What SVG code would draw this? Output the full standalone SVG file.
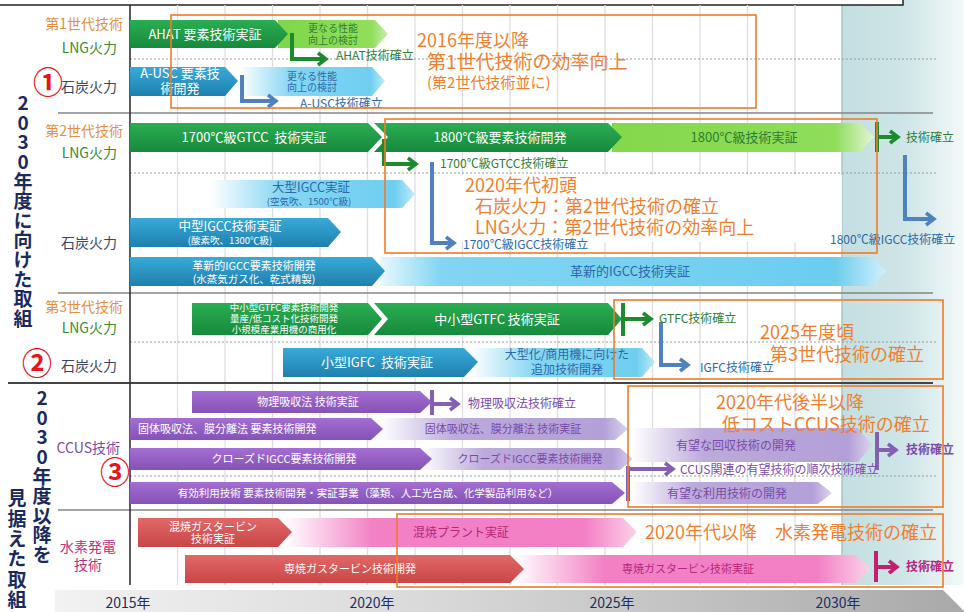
<svg xmlns="http://www.w3.org/2000/svg" width="964" height="612" viewBox="0 0 964 612">
<defs>
<style>
text{font-family:"Noto Sans CJK JP","Noto Sans","DejaVu Sans",sans-serif}
.grid{stroke:#dedede;stroke-width:1.3}
.sep{stroke:#858585;stroke-width:1.3}
.dot{stroke:#9a9a9a;stroke-width:1;stroke-dasharray:2 2}
.ob{fill:none;stroke:#f07a2a;stroke-width:1.6}
.ot{fill:#ef7f2e}
.c{text-anchor:middle}
.wt{fill:#fff}
.gt{fill:#2e7d32}
.bt{fill:#2b68a8}
.pt{fill:#7a4aa8}
.mt{fill:#b5267a}
.lbl{font-size:14px;text-anchor:end}
.gen{fill:#e39140}
.lng{fill:#3b8a2f}
.coal{fill:#3a4663}
.vt{font-size:19px;font-weight:bold;fill:#1b2a5c;writing-mode:vertical-rl;text-orientation:upright;letter-spacing:0.6px}
.num{font-size:30px;fill:#e8131b;font-weight:bold;text-anchor:middle;dominant-baseline:central}
.yr{font-size:14px;fill:#20305e;text-anchor:middle}
.cg{fill:none;stroke:#1d8a2e;stroke-width:4}
.cb{fill:none;stroke:#4f80c0;stroke-width:4}
.cp{fill:none;stroke:#8460b4;stroke-width:4}
.cm{fill:none;stroke:#c0206e;stroke-width:4}
</style>
<linearGradient id="gDG" x1="0" y1="0" x2="0" y2="1"><stop offset="0" stop-color="#2bad52"/><stop offset="1" stop-color="#17893d"/></linearGradient>
<linearGradient id="gLG" x1="0" y1="0" x2="1" y2="0"><stop offset="0" stop-color="#7fd64a"/><stop offset="0.85" stop-color="#92de5c"/><stop offset="1" stop-color="#c8efb0"/></linearGradient>
<linearGradient id="gLGf" x1="0" y1="0" x2="1" y2="0"><stop offset="0" stop-color="#84d84b"/><stop offset="0.85" stop-color="#8fdd5a"/><stop offset="1" stop-color="#e2f6d4"/></linearGradient>
<linearGradient id="gBL" x1="0" y1="0" x2="0" y2="1"><stop offset="0" stop-color="#38aad8"/><stop offset="1" stop-color="#1f80ae"/></linearGradient>
<linearGradient id="gLB" x1="0" y1="0" x2="1" y2="0"><stop offset="0" stop-color="#ffffff"/><stop offset="0.35" stop-color="#86d6f3"/><stop offset="0.9" stop-color="#6fcef0"/><stop offset="1" stop-color="#bfeaf8"/></linearGradient>
<linearGradient id="gLB2" x1="0" y1="0" x2="1" y2="0"><stop offset="0" stop-color="#eaf8fd"/><stop offset="0.12" stop-color="#82d5f3"/><stop offset="0.9" stop-color="#6ccdef"/><stop offset="1" stop-color="#d2f0fa"/></linearGradient>
<linearGradient id="gPU" x1="0" y1="0" x2="0" y2="1"><stop offset="0" stop-color="#a46ed2"/><stop offset="1" stop-color="#8552b6"/></linearGradient>
<linearGradient id="gLP" x1="0" y1="0" x2="1" y2="0"><stop offset="0" stop-color="#ffffff"/><stop offset="0.3" stop-color="#bcaadb"/><stop offset="0.9" stop-color="#b2a0d7"/><stop offset="1" stop-color="#dcd2ef"/></linearGradient>
<linearGradient id="gRD" x1="0" y1="0" x2="0" y2="1"><stop offset="0" stop-color="#e26868"/><stop offset="1" stop-color="#c84646"/></linearGradient>
<linearGradient id="gPK" x1="0" y1="0" x2="1" y2="0"><stop offset="0" stop-color="#ffffff"/><stop offset="0.25" stop-color="#f281c4"/><stop offset="0.85" stop-color="#f37fc4"/><stop offset="1" stop-color="#fbd2e9"/></linearGradient>
<linearGradient id="gTeal" x1="0" y1="0" x2="1" y2="0"><stop offset="0" stop-color="#c3dfe1"/><stop offset="0.55" stop-color="#d0e6e8"/><stop offset="1" stop-color="#f4f9f9"/></linearGradient>
<linearGradient id="gBand" x1="0" y1="0" x2="1" y2="0"><stop offset="0" stop-color="#f2f2f2"/><stop offset="0.4" stop-color="#dadada"/><stop offset="1" stop-color="#a9a9a9"/></linearGradient>
<marker id="mG" viewBox="0 0 14 16" refX="8" refY="8" markerWidth="14" markerHeight="16" orient="auto" markerUnits="userSpaceOnUse"><path d="M2 2L10 8L2 14" fill="none" stroke="#1d8a2e" stroke-width="3.5"/></marker>
<marker id="mB" viewBox="0 0 14 16" refX="8" refY="8" markerWidth="14" markerHeight="16" orient="auto" markerUnits="userSpaceOnUse"><path d="M2 2L10 8L2 14" fill="none" stroke="#4f80c0" stroke-width="3.5"/></marker>
<marker id="mP" viewBox="0 0 14 16" refX="8" refY="8" markerWidth="14" markerHeight="16" orient="auto" markerUnits="userSpaceOnUse"><path d="M2 2L10 8L2 14" fill="none" stroke="#8460b4" stroke-width="3.5"/></marker>
<marker id="mM" viewBox="0 0 14 16" refX="8" refY="8" markerWidth="14" markerHeight="16" orient="auto" markerUnits="userSpaceOnUse"><path d="M2 2L10 8L2 14" fill="none" stroke="#c0206e" stroke-width="3.5"/></marker>
</defs>

<rect width="964" height="612" fill="#fff"/>

<g id="background">
<rect x="842" y="0" width="122" height="585" fill="url(#gTeal)"/>
<line x1="842" y1="5" x2="842" y2="585" stroke="#a9c4c6" stroke-width="1.5"/>
<rect x="-2" y="-20" width="905" height="25" fill="#fff" stroke="#222" stroke-width="1.5"/>
<polygon points="55,590 943,590 965,612 55,612" fill="url(#gBand)"/>
<g class="grid">
<line x1="177.5" y1="5" x2="177.5" y2="585"/><line x1="225" y1="5" x2="225" y2="585"/><line x1="272.5" y1="5" x2="272.5" y2="585"/><line x1="320" y1="5" x2="320" y2="585"/><line x1="367.5" y1="5" x2="367.5" y2="585"/><line x1="415" y1="5" x2="415" y2="585"/><line x1="462.5" y1="5" x2="462.5" y2="585"/><line x1="510" y1="5" x2="510" y2="585"/><line x1="557.5" y1="5" x2="557.5" y2="585"/><line x1="605" y1="5" x2="605" y2="585"/><line x1="652.5" y1="5" x2="652.5" y2="585"/><line x1="700" y1="5" x2="700" y2="585"/><line x1="747.5" y1="5" x2="747.5" y2="585"/><line x1="795" y1="5" x2="795" y2="585"/>
</g>
<rect x="440" y="175" width="402" height="67" fill="#fff"/>
<g class="dot">
<line x1="130" y1="59" x2="938" y2="59"/><line x1="130" y1="173" x2="938" y2="173"/><line x1="130" y1="342" x2="938" y2="342"/><line x1="130" y1="476" x2="938" y2="476"/>
</g>
<line class="sep" x1="58" y1="113" x2="933" y2="113"/>
<line class="sep" x1="58" y1="293" x2="933" y2="293"/>
<line x1="8" y1="383" x2="933" y2="383" stroke="#444" stroke-width="2.2"/>
<line class="sep" x1="58" y1="510" x2="933" y2="510"/>
<line x1="130" y1="5" x2="130" y2="585" stroke="#333" stroke-width="1.6"/>
</g>

<g id="year-axis">
<text class="yr" x="128" y="608">2015年</text>
<text class="yr" x="372" y="608">2020年</text>
<text class="yr" x="612" y="608">2025年</text>
<text class="yr" x="838" y="608">2030年</text>
</g>

<g id="title-2030">
<text class="vt" x="23" y="93.5">2030年度に向けた取組</text>
</g>
<g id="title-beyond-2030">
<text class="vt" x="42" y="388.5">2030年度以降を</text>
<text class="vt" x="17" y="488.5" style="letter-spacing:1.4px">見据えた取組</text>
</g>

<g id="row-labels">
<text class="lbl gen" x="123" y="29">第1世代技術</text>
<text class="lbl lng" x="117" y="53">LNG火力</text>
<text class="lbl coal" x="117" y="92">石炭火力</text>
<text class="lbl gen" x="123" y="136">第2世代技術</text>
<text class="lbl lng" x="117" y="158">LNG火力</text>
<text class="lbl coal" x="117" y="248">石炭火力</text>
<text class="lbl gen" x="123" y="312">第3世代技術</text>
<text class="lbl lng" x="117" y="333">LNG火力</text>
<text class="lbl coal" x="117" y="371">石炭火力</text>
<text class="lbl" x="120" y="453" fill="#7a4aa8">CCUS技術</text>
<text class="c" font-size="14" fill="#b8307a"><tspan x="88" y="552">水素発電</tspan><tspan x="88" y="570">技術</tspan></text>
<text class="num" x="48" y="80">①</text>
<text class="num" x="37" y="361">②</text>
<text class="num" x="115" y="470">③</text>
</g>

<g id="n-ahat-next"><path d="M278 20H375L388 34L375 48H278Z" fill="url(#gLG)"/><text class="gt c" font-size="10"><tspan x="333" y="32">更なる性能</tspan><tspan x="333" y="44">向上の検討</tspan></text></g>
<g id="n-ahat"><path d="M130 20H275L288 34L275 48H130Z" fill="url(#gDG)"/><text class="wt c" x="205" y="39" font-size="13">AHAT 要素技術実証</text></g>
<g id="n-ausc-next"><path d="M240 67H372L385 81L372 96H240Z" fill="url(#gLB)"/><text class="bt c" font-size="10"><tspan x="312" y="80">更なる性能</tspan><tspan x="312" y="91">向上の検討</tspan></text></g>
<g id="n-ausc"><path d="M130 67H225L238 81L225 96H130Z" fill="url(#gBL)"/><text class="wt c" font-size="13"><tspan x="180" y="78">A-USC 要素技</tspan><tspan x="180" y="93">術開発</tspan></text></g>

<g id="n-1800demo"><path d="M612 123H860L874 137L860 152H612Z" fill="url(#gLGf)"/><text class="gt c" x="744" y="142" font-size="13">1800℃級技術実証</text></g>
<g id="n-1800dev"><path d="M374 123H608L622 137L608 152H374L388 137Z" fill="url(#gDG)"/><text class="wt c" x="500" y="142" font-size="13">1800℃級要素技術開発</text></g>
<g id="n-gtcc1700"><path d="M130 123H368L382 137L368 152H130Z" fill="url(#gDG)"/><text class="wt c" x="254" y="142" font-size="13" xml:space="preserve">1700℃級GTCC  技術実証</text></g>

<g id="n-igcc-large"><path d="M210 180H402L415 194L402 208H210Z" fill="url(#gLB)"/><text class="bt c"><tspan x="311" y="192" font-size="12.5">大型IGCC実証</tspan><tspan x="309" y="205" font-size="9.5">(空気吹、1500℃級)</tspan></text></g>
<g id="n-igcc-mid"><path d="M130 218H328L341 232L328 247H130Z" fill="url(#gBL)"/><text class="wt c"><tspan x="230" y="231" font-size="12.5">中型IGCC技術実証</tspan><tspan x="230" y="244" font-size="9.5">(酸素吹、1300℃級)</tspan></text></g>
<g id="n-igcc-innov-demo"><path d="M380 257H872L886 271L872 286H380Z" fill="url(#gLB2)"/><text class="bt c" x="630" y="276" font-size="13">革新的IGCC技術実証</text></g>
<g id="n-igcc-innov"><path d="M130 257H372L385 271L372 286H130Z" fill="url(#gBL)"/><text class="wt c"><tspan x="254" y="270" font-size="11">革新的IGCC要素技術開発</tspan><tspan x="254" y="283" font-size="10.5">(水蒸気ガス化、乾式精製)</tspan></text></g>

<g id="n-gtfc-demo"><path d="M374 303H608L622 319L608 335H374L388 319Z" fill="url(#gDG)"/><text class="wt c" x="497" y="324" font-size="13">中小型GTFC 技術実証</text></g>
<g id="n-gtfc-dev"><path d="M192 303H368L382 319L368 335H192Z" fill="url(#gDG)"/><text class="wt c" font-size="9.5"><tspan x="284" y="311">中小型GTFC要素技術開発</tspan><tspan x="284" y="322">量産/低コスト化技術開発</tspan><tspan x="284" y="333">小規模産業用機の商用化</tspan></text></g>
<g id="n-igfc-next"><path d="M470 348H642L655 362L642 377H470Z" fill="url(#gLB)"/><text class="bt c" font-size="12"><tspan x="567" y="359">大型化/商用機に向けた</tspan><tspan x="567" y="374">追加技術開発</tspan></text></g>
<g id="n-igfc"><path d="M283 348H464L478 362L464 377H283Z" fill="url(#gBL)"/><text class="wt c" x="377" y="367" font-size="13" xml:space="preserve">小型IGFC  技術実証</text></g>

<g id="n-phys"><path d="M192 391H420L432 402L420 413H192Z" fill="url(#gPU)"/><text class="wt c" x="308" y="406" font-size="11">物理吸収法 技術実証</text></g>
<g id="n-solid-demo"><path d="M380 418H615L628 429L615 440H380Z" fill="url(#gLP)"/><text class="pt c" x="503" y="433" font-size="11">固体吸収法、膜分離法 技術実証</text></g>
<g id="n-solid"><path d="M130 418H371L383 429L371 440H130Z" fill="url(#gPU)"/><text class="wt" x="138" y="433" font-size="11">固体吸収法、膜分離法 要素技術開発</text></g>
<g id="n-closed-next"><path d="M420 448H620L633 459L620 470H420Z" fill="url(#gLP)"/><text class="pt c" x="530" y="463" font-size="11">クローズドIGCC要素技術開発</text></g>
<g id="n-closed"><path d="M130 448H420L432 459L420 470H130Z" fill="url(#gPU)"/><text class="wt c" x="284" y="463" font-size="11">クローズドIGCC要素技術開発</text></g>
<g id="n-util"><path d="M130 482H612L625 493L612 504H130Z" fill="url(#gPU)"/><text class="wt c" x="368" y="497" font-size="10.5">有効利用技術 要素技術開発・実証事業（藻類、人工光合成、化学製品利用など）</text></g>
<g id="n-capture"><path d="M632 428H858L872 445L858 462H632Z" fill="url(#gLP)"/><text class="pt c" x="736" y="450" font-size="12">有望な回収技術の開発</text></g>
<g id="n-useful"><path d="M632 482H818L832 493L818 504H632Z" fill="url(#gLP)"/><text class="pt c" x="727" y="498" font-size="12">有望な利用技術の開発</text></g>

<g id="n-cofire-plant"><path d="M285 518H623L637 532L623 547H285Z" fill="url(#gPK)"/><text class="mt c" x="461" y="537" font-size="12">混焼プラント実証</text></g>
<g id="n-cofire-gt"><path d="M138 518H278L292 532L278 547H138Z" fill="url(#gRD)"/><text class="wt c" font-size="11"><tspan x="213" y="531">混焼ガスタービン</tspan><tspan x="213" y="543">技術実証</tspan></text></g>
<g id="n-mono-demo"><path d="M515 555H856L870 569L856 583H515Z" fill="url(#gPK)"/><text class="mt c" x="688" y="573" font-size="11">専焼ガスタービン技術実証</text></g>
<g id="n-mono-dev"><path d="M185 555H510L524 569L510 583H185Z" fill="url(#gRD)"/><text class="wt c" x="350" y="573" font-size="11">専焼ガスタービン技術開発</text></g>

<g id="connectors">
<path class="cg" d="M292 33V59H324" marker-end="url(#mG)"/>
<path class="cb" d="M242 75V101H274" marker-end="url(#mB)"/>
<path class="cg" d="M384 139V164H414" marker-end="url(#mG)"/>
<path class="cb" d="M432 162V243H452" marker-end="url(#mB)"/>
<path class="cg" d="M877 122V152"/>
<path class="cg" d="M877 137H896" marker-end="url(#mG)"/>
<path class="cb" d="M905 155V219H932" marker-end="url(#mB)"/>
<path class="cg" d="M623 303V336"/>
<path class="cg" d="M623 319H649" marker-end="url(#mG)"/>
<path class="cb" d="M661 322V365H686" marker-end="url(#mB)"/>
<path class="cp" d="M432 390V415"/>
<path class="cp" d="M432 404H456" marker-end="url(#mP)"/>
<path class="cp" d="M628 466V501"/>
<path class="cp" d="M628 469H671" marker-end="url(#mP)"/>
<path class="cp" d="M877 432V470"/>
<path class="cp" d="M877 450H894" marker-end="url(#mP)"/>
<path class="cm" d="M876 551V582"/>
<path class="cm" d="M876 567H895" marker-end="url(#mM)"/>
</g>

<g id="milestones">
<text class="gt" x="336" y="60" font-size="12">AHAT技術確立</text>
<text class="bt" x="300" y="108" font-size="12">A-USC技術確立</text>
<text class="gt" x="906" y="142" font-size="12">技術確立</text>
<text class="gt" x="440" y="168" font-size="12">1700℃級GTCC技術確立</text>
<text class="bt" x="463" y="249" font-size="12">1700℃級IGCC技術確立</text>
<text class="bt" x="830" y="244" font-size="12">1800℃級IGCC技術確立</text>
<text class="gt" x="659" y="323" font-size="12">GTFC技術確立</text>
<text class="bt" x="700" y="372" font-size="12">IGFC技術確立</text>
<text class="pt" x="468" y="408" font-size="12">物理吸収法技術確立</text>
<text class="pt" x="680" y="474" font-size="12">CCUS関連の有望技術の順次技術確立</text>
<text class="pt" x="906" y="454" font-size="12" font-weight="bold">技術確立</text>
<text class="mt" x="906" y="571" font-size="12" font-weight="bold">技術確立</text>
</g>

<g id="goal-1">
<rect class="ob" x="171" y="15" width="585" height="93"/>
<text class="ot"><tspan x="417" y="47" font-size="18">2016年度以降</tspan><tspan x="427" y="69" font-size="19">第1世代技術の効率向上</tspan><tspan x="427" y="88" font-size="15">(第2世代技術並に)</tspan></text>
</g>
<g id="goal-2">
<rect class="ob" x="385" y="119" width="492" height="134"/>
<text class="ot" font-size="18"><tspan x="465" y="192">2020年代初頭</tspan><tspan x="475" y="213">石炭火力：第2世代技術の確立</tspan><tspan x="475" y="234">LNG火力：第2世代技術の効率向上</tspan></text>
</g>
<g id="goal-3">
<rect class="ob" x="614" y="300" width="329" height="79"/>
<text class="ot" font-size="18"><tspan x="760" y="339">2025年度頃</tspan><tspan x="770" y="361">第3世代技術の確立</tspan></text>
</g>
<g id="goal-4">
<rect class="ob" x="628" y="386" width="315" height="121"/>
<text class="ot" font-size="18"><tspan x="716" y="409">2020年代後半以降</tspan><tspan x="722" y="431">低コストCCUS技術の確立</tspan></text>
</g>
<g id="goal-5">
<rect class="ob" x="397" y="514" width="546" height="73"/>
<text class="ot" x="645" y="539" font-size="18">2020年代以降　水素発電技術の確立</text>
</g>
</svg>
